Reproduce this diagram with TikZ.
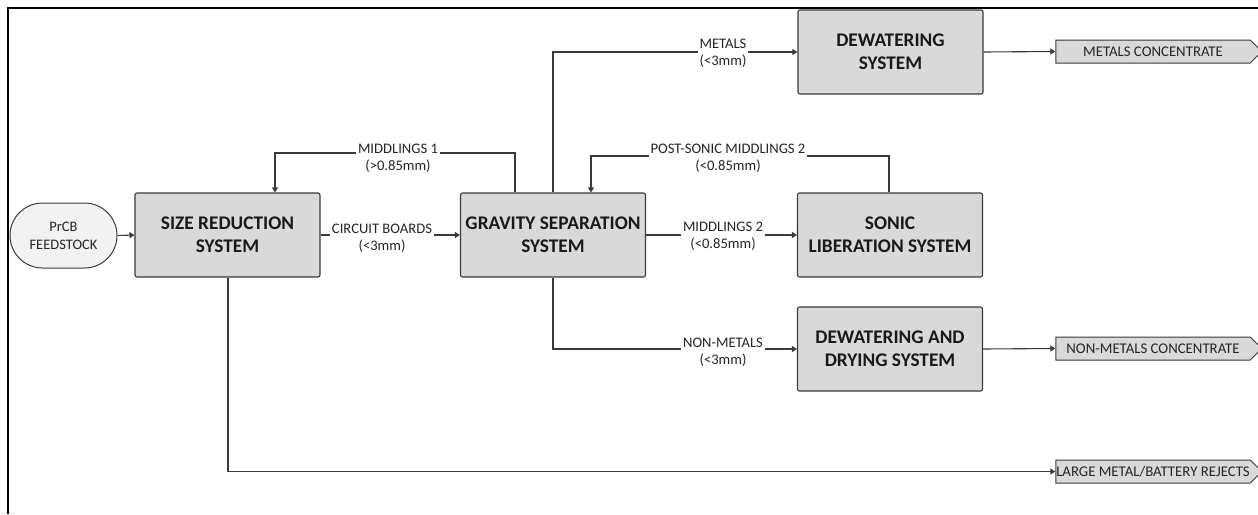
\documentclass[tikz,border=0pt]{standalone}
\usepackage{fontspec}
\setmainfont{Carlito}
\usetikzlibrary{arrows.meta,shapes.misc,shapes.symbols}
\definecolor{boxfill}{HTML}{D9D9D9}
\definecolor{feedfill}{HTML}{F2F2F2}
\definecolor{linec}{HTML}{3A3A3A}
\definecolor{textc}{HTML}{262626}
\newcommand\twolines[2]{\begin{tabular}[t]{@{}c@{}}#1\\#2\end{tabular}}
\begin{document}
\begin{tikzpicture}[x=1pt,y=-1pt,
  sysbox/.style={draw=linec, fill=boxfill, line width=1.1pt, rounded corners=2pt,
    minimum width=185pt, minimum height=84pt, inner sep=0pt, align=center,
    font=\fontsize{19.3}{23}\selectfont\bfseries, text=black!90},
  feedbox/.style={rounded rectangle, draw=linec, fill=feedfill, line width=1pt,
    minimum width=107pt, minimum height=65pt, inner sep=0pt, align=center,
    font=\fontsize{14.5}{18}\selectfont, text=textc},
  tagbox/.style={signal, signal to=east, draw=linec, fill=boxfill, minimum width=206pt,
    minimum height=23pt, inner sep=0pt, font=\fontsize{14.8}{17}\selectfont,
    text=textc, line width=1pt},
  lbl/.style={fill=white, inner xsep=2pt, inner ysep=1pt, anchor=base,
    font=\fontsize{14.6}{17.5}\selectfont, text=textc},
  conn/.style={draw=linec, line width=1.1pt},
  arr/.style={conn, -{Triangle[length=5pt,width=6pt]}},
]
\useasboundingbox (0,0) rectangle (1258,514);
\fill[white] (0,0) rectangle (1258,514);
\draw[line width=2.5pt, black] (1258,8) -- (8,8) -- (8,514);

\node[feedbox] (feed) at (63.5,235.5) {PrCB\\FEEDSTOCK};
\node[sysbox] (sr) at (227.5,235) {SIZE REDUCTION\\SYSTEM};
\node[sysbox] (gs) at (553,235) {GRAVITY SEPARATION\\SYSTEM};
\node[sysbox] (dw) at (890.5,52) {DEWATERING\\SYSTEM};
\node[sysbox] (sl) at (890,235) {SONIC\\LIBERATION SYSTEM};
\node[sysbox] (dd) at (890,349) {DEWATERING AND\\DRYING SYSTEM};
\node[tagbox] (t1) at (1153,51.5) {METALS CONCENTRATE};
\node[tagbox] (t2) at (1153,348.5) {NON-METALS CONCENTRATE};
\node[tagbox] (t3) at (1153,471.5) {LARGE METAL/BATTERY REJECTS};

\coordinate (m1a) at (515,153);
\coordinate (m1b) at (275,153);
\coordinate (mta) at (553,51);
\coordinate (psa) at (889,156);
\coordinate (psb) at (591,156);
\coordinate (lga) at (228,471.5);

\draw[arr] (feed.east) -- (sr.west);
\draw[arr] (sr.east) -- (gs.west);
\draw[arr] (gs.east) -- (sl.west);
\draw[arr] (gs.north -| m1a) -- (m1a) -- (m1b) -- (sr.north -| m1b);
\draw[arr] (gs.north -| mta) |- (dw.west);
\draw[arr] (sl.north -| psa) -- (psa) -- (psb) -- (gs.north -| psb);
\draw[arr] (gs.south -| mta) |- (dd.west);
\draw[arr] (sr.south -| lga) -- (lga) -- (t3.west);
\draw[arr] (dw.east) -- (t1.west);
\draw[arr] (dd.east) -- (t2.west);

\node[lbl] (l1) at (398,153) {\twolines{MIDDLINGS 1}{(>0.85mm)}};
\node[lbl] (l2) at (382,233) {\twolines{CIRCUIT BOARDS}{(<3mm)}};
\node[lbl] (l3) at (723,48) {\twolines{METALS}{(<3mm)}};
\node[lbl] (l4) at (728,153) {\twolines{POST-SONIC MIDDLINGS 2}{(<0.85mm)}};
\node[lbl] (l5) at (723,231) {\twolines{MIDDLINGS 2}{(<0.85mm)}};
\node[lbl] (l6) at (723,347) {\twolines{NON-METALS}{(<3mm)}};
\end{tikzpicture}
\end{document}
